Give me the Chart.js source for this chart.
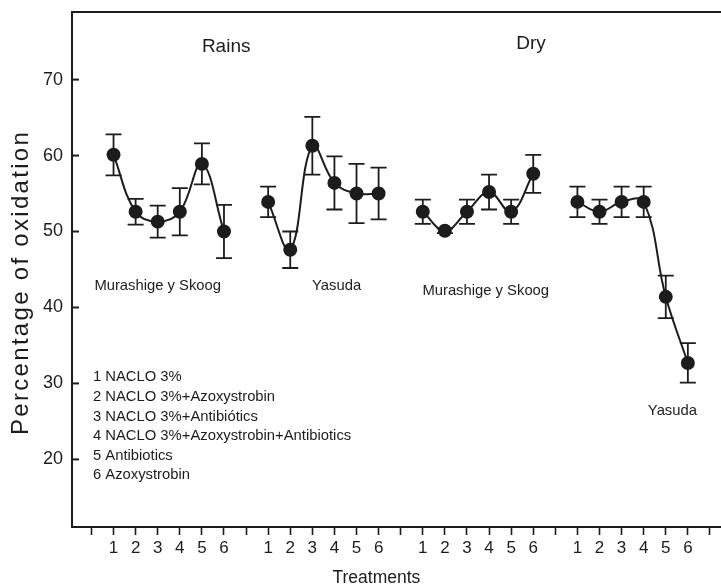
<!DOCTYPE html>
<html>
<head>
<meta charset="utf-8">
<script src="https://cdn.jsdelivr.net/npm/chart.js@4.4.0/dist/chart.umd.min.js"></script>
<style>
  body { margin: 0; background: #fff; }
  #wrap { width: 721px; height: 587px; }
</style>
</head>
<body>
<div id="wrap"><canvas id="myChart"></canvas></div>
<script>
// values (percentage of oxidation, mean and error)
const treatmentLabels = ['1', '2', '3', '4', '5', '6'];
const seasonNames = ['Rains', 'Dry'];
const mediumNames = ['Murashige y Skoog', 'Yasuda', 'Murashige y Skoog', 'Yasuda'];

const rainsMurashige = [60.1, 52.6, 51.3, 52.6, 58.9, 50.0];
const rainsMurashigeErr = [2.7, 1.7, 2.1, 3.1, 2.7, 3.5];
const rainsYasuda = [53.9, 47.6, 61.3, 56.4, 55.0, 55.0];
const rainsYasudaErr = [2.0, 2.4, 3.8, 3.5, 3.9, 3.4];
const dryMurashige = [52.6, 50.1, 52.6, 55.2, 52.6, 57.6];
const dryMurashigeErr = [1.6, 0.3, 1.6, 2.3, 1.6, 2.5];
const dryYasuda = [53.9, 52.6, 53.9, 53.9, 41.4, 32.7];
const dryYasudaErr = [2.0, 1.6, 2.0, 2.0, 2.8, 2.6];

const yTicks = [20, 30, 40, 50, 60, 70];
const legendLines = [
  '1 NACLO 3%',
  '2 NACLO 3%+Azoxystrobin',
  '3 NACLO 3%+Antibiótics',
  '4 NACLO 3%+Azoxystrobin+Antibiotics',
  '5 Antibiotics',
  '6 Azoxystrobin'
];

const FONT = "'Liberation Sans', Arial, sans-serif";
const INK = '#1c1c1c';

const series = [
  { values: rainsMurashige, err: rainsMurashigeErr },
  { values: rainsYasuda, err: rainsYasudaErr },
  { values: dryMurashige, err: dryMurashigeErr },
  { values: dryYasuda, err: dryYasudaErr }
];

// each group of 6 treatments, with a one-step gap between groups
function xPos(group, i) {
  return group * 7 + i + 1;
}

const datasets = series.map((s, g) => ({
  data: s.values.map((v, i) => ({ x: xPos(g, i), y: v })),
  borderColor: INK,
  backgroundColor: INK,
  borderWidth: 2,
  pointRadius: 6,
  pointHoverRadius: 6,
  pointBackgroundColor: INK,
  pointBorderColor: INK,
  tension: 0.4
}));

const extrasPlugin = {
  id: 'extras',
  beforeDatasetsDraw(chart) {
    const { ctx, scales: { x, y } } = chart;
    ctx.save();
    ctx.strokeStyle = INK;
    ctx.lineWidth = 1.8;
    series.forEach((s, g) => {
      s.values.forEach((v, i) => {
        const px = x.getPixelForValue(xPos(g, i));
        const top = y.getPixelForValue(v + s.err[i]);
        const bot = y.getPixelForValue(v - s.err[i]);
        ctx.beginPath();
        ctx.moveTo(px, top); ctx.lineTo(px, bot);
        ctx.moveTo(px - 8, top); ctx.lineTo(px + 8, top);
        ctx.moveTo(px - 8, bot); ctx.lineTo(px + 8, bot);
        ctx.stroke();
      });
    });
    ctx.restore();
  },
  afterDraw(chart) {
    const { ctx, chartArea, scales: { x, y } } = chart;
    ctx.save();
    ctx.strokeStyle = INK;
    ctx.lineWidth = 2;
    // top frame line
    ctx.beginPath();
    ctx.moveTo(chartArea.left - 1, chartArea.top);
    ctx.lineTo(chartArea.right, chartArea.top);
    ctx.stroke();
    // inward ticks on y axis
    yTicks.forEach(t => {
      const py = y.getPixelForValue(t);
      ctx.beginPath();
      ctx.moveTo(chartArea.left, py);
      ctx.lineTo(chartArea.left + 7, py);
      ctx.stroke();
    });

    ctx.fillStyle = INK;
    ctx.textAlign = 'center';
    ctx.textBaseline = 'middle';
    ctx.font = '19px ' + FONT;
    ctx.fillText(seasonNames[0], x.getPixelForValue(6.1), y.getPixelForValue(74.3));
    ctx.fillText(seasonNames[1], x.getPixelForValue(19.9), y.getPixelForValue(74.7));

    ctx.font = '14.8px ' + FONT;
    const mediumAt = [[3.0, 42.8], [11.1, 42.9], [17.85, 42.2], [26.3, 26.4]];
    mediumNames.forEach((name, i) => {
      ctx.fillText(name, x.getPixelForValue(mediumAt[i][0]), y.getPixelForValue(mediumAt[i][1]));
    });

    ctx.textAlign = 'left';
    const lx = x.getPixelForValue(0) + 1.5;
    const ly = y.getPixelForValue(30.8);
    legendLines.forEach((line, i) => {
      ctx.fillText(line, lx, ly + i * 19.6);
    });

    // axis titles
    ctx.textAlign = 'center';
    ctx.font = '17.5px ' + FONT;
    ctx.fillText('Treatments', x.getPixelForValue(12.9), 578);

    ctx.font = '24px ' + FONT;
    ctx.letterSpacing = '2.3px';
    ctx.translate(21, y.getPixelForValue(43.3));
    ctx.rotate(-Math.PI / 2);
    ctx.fillText('Percentage of oxidation', 0, 0);
    ctx.restore();
  }
};

new Chart(document.getElementById('myChart'), {
  type: 'line',
  data: { datasets: datasets },
  plugins: [extrasPlugin],
  options: {
    responsive: true,
    maintainAspectRatio: false,
    animation: false,
    layout: { autoPadding: false, padding: { top: 12, right: 0, left: 0, bottom: 0 } },
    plugins: {
      legend: { display: false },
      tooltip: { enabled: false }
    },
    scales: {
      x: {
        type: 'linear',
        min: -0.88,
        max: 28.5,
        afterBuildTicks(scale) {
          const ticks = [];
          for (let v = 0; v <= 28; v++) ticks.push({ value: v });
          scale.ticks = ticks;
        },
        afterFit(scale) {
          scale.height = 60;
          scale.paddingLeft = 0;
          scale.paddingRight = 0;
        },
        grid: {
          display: true,
          drawOnChartArea: false,
          drawTicks: true,
          tickLength: 8,
          tickWidth: 1.6,
          tickColor: INK
        },
        border: { display: true, color: INK, width: 2 },
        ticks: {
          autoSkip: false,
          maxRotation: 0,
          padding: 3,
          color: INK,
          font: { family: FONT, size: 17 },
          callback(value) {
            const k = value % 7;
            return k === 0 ? '' : treatmentLabels[k - 1];
          }
        }
      },
      y: {
        min: 11.1,
        max: 78.9,
        afterBuildTicks(scale) {
          scale.ticks = yTicks.map(v => ({ value: v }));
        },
        afterFit(scale) {
          scale.width = 72;
          scale.paddingTop = 0;
          scale.paddingBottom = 0;
        },
        grid: { display: true, drawOnChartArea: false, drawTicks: false },
        border: { display: true, color: INK, width: 2 },
        ticks: {
          padding: 9,
          color: INK,
          font: { family: FONT, size: 18 }
        }
      }
    }
  }
});
</script>
</body>
</html>
